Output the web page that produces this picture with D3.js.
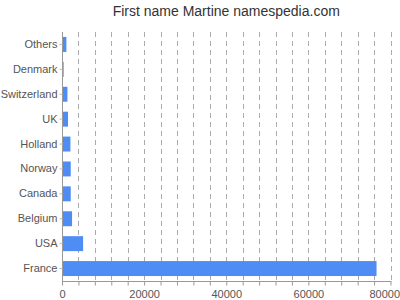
<!DOCTYPE html>
<html>
<head>
<meta charset="utf-8">
<script src="https://cdn.jsdelivr.net/npm/d3@7"></script>
<style>
  body { margin: 0; background: #fff; }
  svg { font-family: "Liberation Sans", Arial, sans-serif; }
</style>
</head>
<body>
<svg></svg>
<script>
const countries = ["Others", "Denmark", "Switzerland", "UK", "Holland", "Norway", "Canada", "Belgium", "USA", "France"];
const counts = [1070, 400, 1320, 1470, 2050, 2130, 2130, 2450, 5140, 76600];
const tickValues = [0, 20000, 40000, 60000, 80000];

const width = 400;
const height = 300;
const padLeft = 62, padRight = 390.5, padTop = 32, padBottom = 281;

const svg = d3.select("svg").attr("width", width).attr("height", height);

const xScale = d3.scaleLinear().domain([0, 80000]).range([padLeft, padRight]);
const yScale = d3.scaleBand().domain(countries).range([padTop, padBottom]).paddingInner(0.4).paddingOuter(0.2);

// dashed grid every 4000
const gridVals = d3.range(4000, 80001, 4000);
svg.append("g")
  .selectAll("line")
  .data(gridVals)
  .enter()
  .append("line")
  .attr("x1", d => Math.round(xScale(d)) + 0.5)
  .attr("x2", d => Math.round(xScale(d)) + 0.5)
  .attr("y1", padTop)
  .attr("y2", padBottom)
  .attr("stroke", "#aaa")
  .attr("stroke-dasharray", "5,4");

svg.append("g")
  .selectAll("rect")
  .data(countries)
  .enter()
  .append("rect")
  .attr("x", xScale(0))
  .attr("y", d => yScale(d))
  .attr("width", (d, i) => xScale(counts[i]) - xScale(0))
  .attr("height", yScale.bandwidth())
  .attr("fill", "#4f8cf3");

// x axis
const xAxis = d3.axisBottom(xScale).tickValues([0].concat(gridVals)).tickSize(4)
  .tickFormat(d => tickValues.includes(d) ? d : "");
const gx = svg.append("g")
  .attr("transform", "translate(0," + (padBottom + 0.5) + ")")
  .call(xAxis);
gx.select(".domain").attr("stroke", "#999").attr("d", "M" + padLeft + ",0H" + (padRight + 1));
gx.selectAll(".tick line").attr("stroke", "#999");
gx.selectAll(".tick text").attr("fill", "#555").attr("font-size", 11).attr("dy", "0.9em");
// keep last label inside the picture
gx.selectAll(".tick text").filter(d => d === 80000).attr("text-anchor", "end").attr("dx", 9);

// y axis
const yAxis = d3.axisLeft(yScale).tickSize(3).tickPadding(2);
const gy = svg.append("g")
  .attr("transform", "translate(" + (padLeft + 0.5) + ",0)")
  .call(yAxis);
gy.select(".domain").attr("stroke", "#999").attr("d", "M0," + padTop + "V" + padBottom);
gy.selectAll(".tick line").attr("stroke", "#bbb");
gy.selectAll(".tick text").attr("fill", "#555").attr("font-size", 11);

svg.append("text")
  .attr("x", (padLeft + padRight) / 2)
  .attr("y", 16)
  .attr("text-anchor", "middle")
  .attr("font-size", 14)
  .attr("fill", "#333")
  .text("First name Martine namespedia.com");
</script>
</body>
</html>
